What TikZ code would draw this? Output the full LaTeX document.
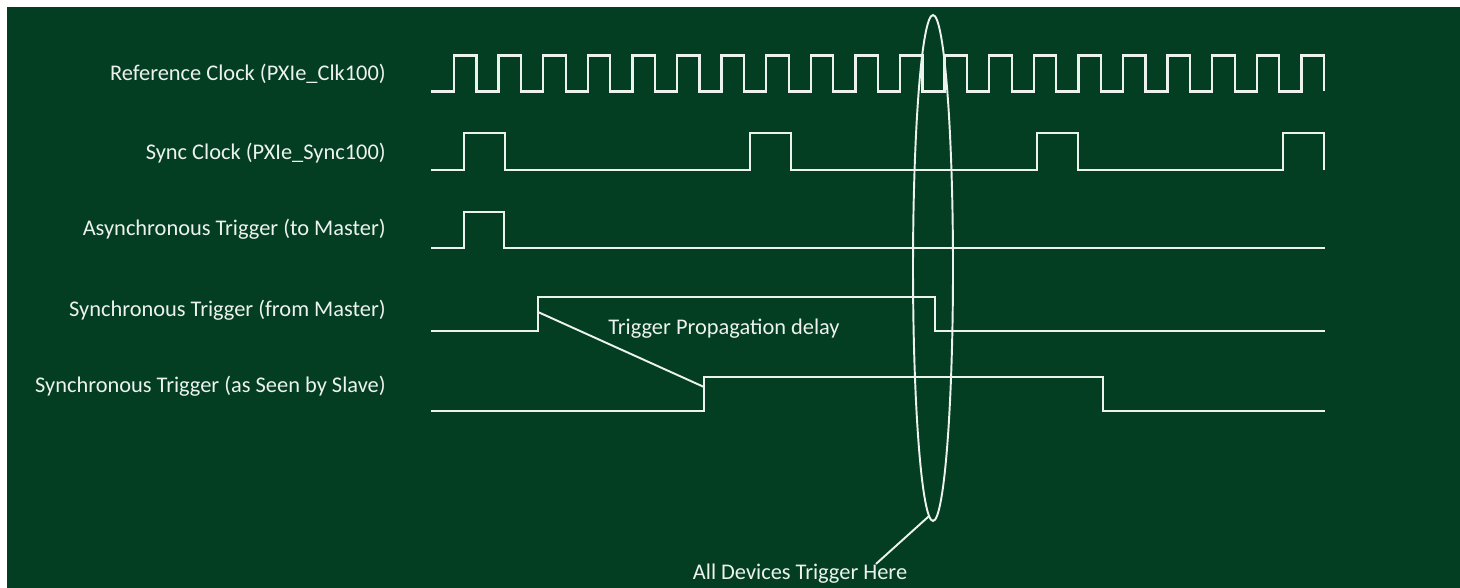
\documentclass[tikz,border=0pt]{standalone}
\usepackage{fontspec}
\setmainfont{Carlito}
\usetikzlibrary{shapes.geometric}
\definecolor{board}{RGB}{4,62,34}
\definecolor{chalk}{RGB}{236,242,237}

\begin{document}
\begin{tikzpicture}[x=0.02cm,y=-0.02cm,
		wave/.style={chalk,line width=1.3pt,line join=miter},
		lbl/.style={text=chalk,font=\fontsize{12.75}{15}\selectfont,inner sep=0pt}]
		
		\useasboundingbox (0,0) rectangle (1460,588);
		\fill[white] (0,0) rectangle (1460,588);
		\fill[board] (7,7) rectangle (1475,600);
		
		\node[lbl,anchor=east] (lref) at (386, 74) {Reference Clock (PXIe\_Clk100)};
		\node[lbl,anchor=east] (lsync) at (386,153) {Sync Clock (PXIe\_Sync100)};
		\node[lbl,anchor=east] (lasync) at (386,229) {Asynchronous Trigger (to Master)};
		\node[lbl,anchor=east] (lmaster) at (386,310) {Synchronous Trigger (from Master)};
		\node[lbl,anchor=east] (lslave) at (386,386) {Synchronous Trigger (as Seen by Slave)};
		
		\draw[wave] (431,91.5) foreach \k in {0,...,19}{ -- ({454+44.6*\k},91.5) -- ++(0,-36) -- ++(22.5,0) -- ++(0,36)};
		\draw[wave] (431,170) foreach \r in {464,750,1037,1283}{ -- (\r,170) -- ++(0,-37) -- ++(41,0) -- ++(0,37)};
		\draw[wave] (431,248) -- (464,248) -- (464,212) -- (504,212) -- (504,248) -- (1325,248);
		\draw[wave] (431,331) -- (538,331) -- (538,297) -- (935,297) -- (935,331) -- (1325,331);
		\draw[wave] (431,411) -- (704,411) -- (704,377) -- (1103,377) -- (1103,411) -- (1325,411);
		
		\coordinate (mrise) at (538,312);
		\coordinate (srise) at (704,387);
		\draw[wave,line width=1.1pt] (mrise) -- (srise);
		\node[lbl] (delay) at (724,329) {Trigger Propagation delay};
		
		\node[draw=chalk,line width=1.1pt,ellipse,minimum width=0.8cm,minimum height=10.12cm,inner sep=0pt] (trig) at (933,268) {};
		\node[lbl] (here) at (800,574) {All Devices Trigger Here};
		\draw[chalk,line width=1.1pt] ([xshift=1.52cm]here.north) -- (trig.-91.5);
		
	\end{tikzpicture}
\end{document}
